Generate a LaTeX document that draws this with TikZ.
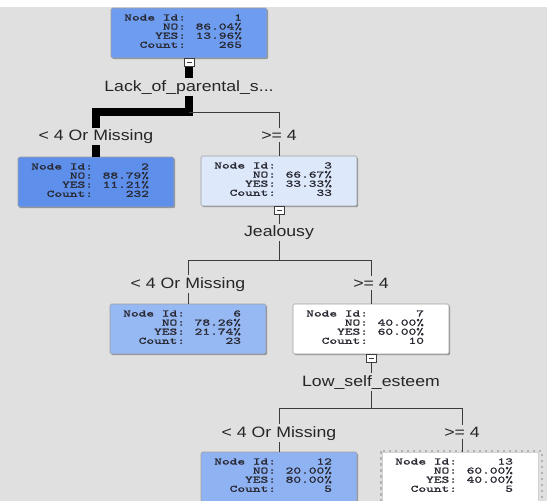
\documentclass[tikz,border=0pt]{standalone}
\usepackage{fontspec}
\usetikzlibrary{shadows}
\newfontfamily\cour{Latin Modern Mono}[FakeStretch=1.5,FakeBold=1.4]
\newfontfamily\labfont{Liberation Sans}[FakeStretch=1.18]
\definecolor{bg}{RGB}{224,224,224}
\definecolor{cA}{RGB}{110,157,240}
\definecolor{cB}{RGB}{94,144,235}
\definecolor{cC}{RGB}{221,232,250}
\definecolor{cD}{RGB}{150,184,243}
\definecolor{cE}{RGB}{143,178,243}
\definecolor{edge}{RGB}{60,60,60}
\definecolor{ink}{RGB}{40,40,50}
\newcommand\rw[2]{\hspace*{11pt}\makebox[64pt][r]{#1}\makebox[56pt][r]{#2}}
\newcommand\ntxt[4]{\parbox[c][50pt][t]{156pt}{\cour\fontsize{9.8}{9.1}\selectfont\color{ink}\lineskiplimit=-20pt\parindent=0pt\rule{0pt}{12.5pt}\rw{Node Id:}{#1}\par\rw{NO:}{#2}\par\rw{YES:}{#3}\par\rw{Count:}{#4}\par}}
\tikzset{
  nbox/.style={inner sep=0pt, draw=gray!75, line width=0.6pt, rounded corners=1.5pt,
    drop shadow={shadow xshift=1.2pt, shadow yshift=-1.2pt, fill=black, opacity=0.35}},
  cbox/.style={anchor=north, inner sep=0pt, minimum width=10pt, minimum height=8pt,
    draw=edge, fill=white, line width=0.7pt,
    path picture={\draw[edge, line width=1pt] ([xshift=2.5pt]path picture bounding box.west) -- ([xshift=-2.5pt]path picture bounding box.east);}},
  lab/.style={anchor=base, inner sep=1.5pt, font=\labfont\fontsize{15}{18}\selectfont, text=black!85},
  heavy/.style={line width=8pt, black, line join=miter},
  thinl/.style={line width=0.9pt, edge},
  focus/.style={draw=gray!60, line width=1.1pt, dash pattern=on 2.5pt off 3.5pt}
}
\begin{document}
\begin{tikzpicture}[x=1pt,y=-1pt]
\clip (0,0) rectangle (547,501);
\fill[bg] (0,0) rectangle (547,501);
\fill[white] (0,0) rectangle (547,7);
% level 0
\node[nbox, fill=cA] (n1) at (189,33) {\ntxt{1}{86.04\%}{13.96\%}{265}};
\node[cbox] (k1) at (n1.south) {};
\node[lab] (l1) at (189,91) {Lack\_of\_parental\_s...};
\coordinate (s1) at (189,112);
% level 1
\node[lab] (b2) at (96,140.5) {< 4 Or Missing};
\node[lab] (b3) at (279,140.5) {>= 4};
\node[nbox, fill=cB] (n2) at (96,182) {\ntxt{2}{88.79\%}{11.21\%}{232}};
\node[nbox, fill=cC] (n3) at (279,181) {\ntxt{3}{66.67\%}{33.33\%}{33}};
\node[cbox] (k3) at (n3.south) {};
\node[lab] (l3) at (279,236.5) {Jealousy};
\coordinate (s3) at (279,260);
% level 2
\node[lab] (b6) at (188,288) {< 4 Or Missing};
\node[lab] (b7) at (371,288) {>= 4};
\node[nbox, fill=cD] (n6) at (188,329) {\ntxt{6}{78.26\%}{21.74\%}{23}};
\node[nbox, fill=white] (n7) at (371,329) {\ntxt{7}{40.00\%}{60.00\%}{10}};
\node[cbox] (k7) at (n7.south) {};
\node[lab] (l7) at (371,386) {Low\_self\_esteem};
\coordinate (s7) at (371,408);
% level 3
\node[lab] (b12) at (279,437) {< 4 Or Missing};
\node[lab] (b13) at (462,437) {>= 4};
\node[nbox, fill=cE] (n12) at (279,477) {\ntxt{12}{20.00\%}{80.00\%}{5}};
\node[inner sep=0pt, fill=white, draw=gray!35, line width=0.6pt] (n13) at (460,477) {\ntxt{13}{60.00\%}{40.00\%}{5}};
\draw[focus] (381,451) rectangle (542,520);
% connectors
\draw[heavy] (k1.south) -- (l1.north);
\draw[heavy] (l1.south) -- (s1) -| (b2.north);
\draw[heavy] (b2.south) -- (b2.south |- n2.north);
\draw[thinl] (s1) -| (b3.north);
\draw[thinl] (b3.south) -- (b3.south |- n3.north);
\draw[thinl] (k3.south) -- (l3.north);
\draw[thinl] (l3.south) -- (s3);
\draw[thinl] (s3) -| (b6.north);
\draw[thinl] (s3) -| (b7.north);
\draw[thinl] (b6.south) -- (b6.south |- n6.north);
\draw[thinl] (b7.south) -- (b7.south |- n7.north);
\draw[thinl] (k7.south) -- (l7.north);
\draw[thinl] (l7.south) -- (s7);
\draw[thinl] (s7) -| (b12.north);
\draw[thinl] (s7) -| (b13.north);
\draw[thinl] (b12.south) -- (b12.south |- n12.north);
\draw[thinl] (b13.south) -- (b13.south |- n13.north);
\end{tikzpicture}
\end{document}
